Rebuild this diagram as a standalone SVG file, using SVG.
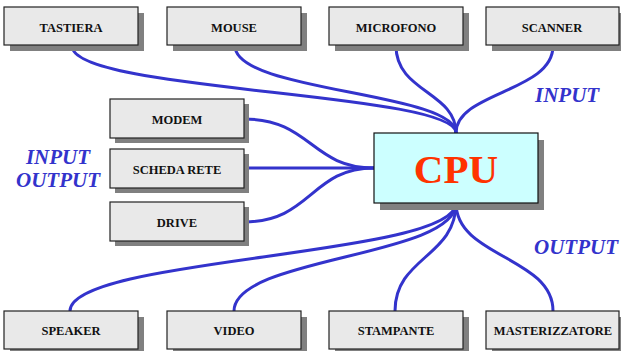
<svg xmlns="http://www.w3.org/2000/svg" width="621" height="351" viewBox="0 0 621 351">
<style>
.sh{fill:#808080}
.bx{fill:#e9e9e9;stroke:#222;stroke-width:1.2}
.lb{font-family:"Liberation Serif","Times New Roman",serif;font-weight:bold;font-size:12.5px;fill:#111;text-anchor:middle}
.cn{fill:none;stroke:#3333cc;stroke-width:3}
.io{font-family:"Liberation Serif","Times New Roman",serif;font-weight:bold;font-style:italic;font-size:21px;fill:#3333cc}
</style>
<rect width="621" height="351" fill="#fff"/>
<g id="connectors">
<path class="cn" d="M72,46 C72,92 456,92 456,133"/>
<path class="cn" d="M235,46 C235,92 456,92 456,133"/>
<path class="cn" d="M396,46 C396,92 456,92 456,133"/>
<path class="cn" d="M553,46 C553,92 456,92 456,133"/>
<path class="cn" d="M244,119 C311,119 311,168 374,168"/>
<path class="cn" d="M244,168 L374,168"/>
<path class="cn" d="M244,222 C311,222 311,168 374,168"/>
<path class="cn" d="M70,311 C70,257 456,257 456,203"/>
<path class="cn" d="M234,311 C234,257 456,257 456,203"/>
<path class="cn" d="M395,311 C395,257 456,257 456,203"/>
<path class="cn" d="M553,311 C553,257 456,257 456,203"/>
</g>
<g id="tastiera"><rect class="sh" x="10" y="13" width="134" height="38"/><rect class="bx" x="4" y="7" width="134" height="38"/><text class="lb" x="71" y="32">TASTIERA</text></g>
<g id="mouse"><rect class="sh" x="173" y="13" width="134" height="38"/><rect class="bx" x="167" y="7" width="134" height="38"/><text class="lb" x="234" y="32">MOUSE</text></g>
<g id="microfono"><rect class="sh" x="335" y="13" width="134" height="38"/><rect class="bx" x="329" y="7" width="134" height="38"/><text class="lb" x="396" y="32">MICROFONO</text></g>
<g id="scanner"><rect class="sh" x="492" y="13" width="133" height="38"/><rect class="bx" x="486" y="7" width="133" height="38"/><text class="lb" x="552" y="32">SCANNER</text></g>
<g id="modem"><rect class="sh" x="115" y="104" width="134" height="39"/><rect class="bx" x="110" y="99" width="134" height="39"/><text class="lb" x="177" y="124">MODEM</text></g>
<g id="scheda-rete"><rect class="sh" x="115" y="154" width="134" height="39"/><rect class="bx" x="110" y="149" width="134" height="39"/><text class="lb" x="177" y="174">SCHEDA RETE</text></g>
<g id="drive"><rect class="sh" x="115" y="207" width="134" height="39"/><rect class="bx" x="110" y="202" width="134" height="39"/><text class="lb" x="177" y="227">DRIVE</text></g>
<g id="cpu"><rect class="sh" x="380" y="140" width="164" height="70"/><rect x="374" y="133" width="164" height="70" fill="#ccffff" stroke="#111" stroke-width="1.2"/><text x="456" y="183" font-family="Liberation Serif,Times New Roman,serif" font-weight="bold" font-size="41" fill="#ff3300" text-anchor="middle">CPU</text></g>
<g id="speaker"><rect class="sh" x="10" y="317" width="134" height="38"/><rect class="bx" x="4" y="311" width="134" height="38"/><text class="lb" x="71" y="335">SPEAKER</text></g>
<g id="video"><rect class="sh" x="173" y="317" width="134" height="38"/><rect class="bx" x="167" y="311" width="134" height="38"/><text class="lb" x="234" y="335">VIDEO</text></g>
<g id="stampante"><rect class="sh" x="335" y="317" width="134" height="38"/><rect class="bx" x="329" y="311" width="134" height="38"/><text class="lb" x="396" y="335">STAMPANTE</text></g>
<g id="masterizzatore"><rect class="sh" x="492" y="317" width="133" height="38"/><rect class="bx" x="486" y="311" width="133" height="38"/><text class="lb" x="553" y="335">MASTERIZZATORE</text></g>
<g id="labels">
<text class="io" x="535" y="102" font-size="22">INPUT</text>
<text class="io" x="534" y="254">OUTPUT</text>
<text class="io" x="58" y="164" text-anchor="middle">INPUT</text>
<text class="io" x="58" y="187" text-anchor="middle">OUTPUT</text>
</g>
</svg>
